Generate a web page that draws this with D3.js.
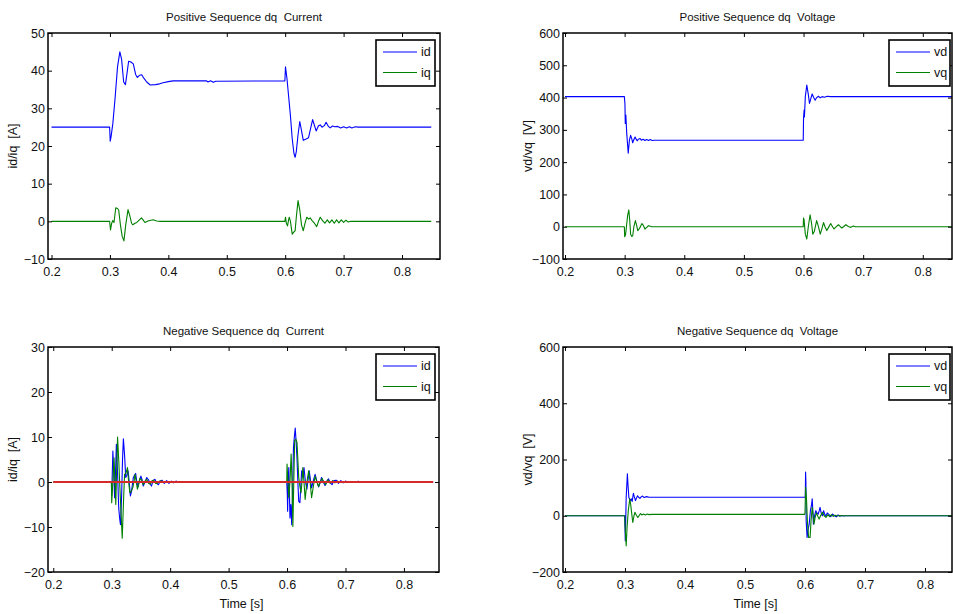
<!DOCTYPE html>
<html><head><meta charset="utf-8">
<script src="https://cdn.jsdelivr.net/npm/d3@7"></script>
<style>
html,body{margin:0;padding:0;background:#fff;}
svg text{font-family:"Liberation Sans",Arial,Helvetica,sans-serif;fill:#111;white-space:pre;}
</style></head>
<body>
<svg id="chart" width="953" height="614"></svg>
<script>
// ---------- DATA ----------
const xTicks = [0.2, 0.3, 0.4, 0.5, 0.6, 0.7, 0.8];
const titles = ["Positive Sequence dq  Current", "Positive Sequence dq  Voltage",
                "Negative Sequence dq  Current", "Negative Sequence dq  Voltage"];
const yLabels = ["id/iq  [A]", "vd/vq  [V]", "id/iq  [A]", "vd/vq  [V]"];
const xLabel = "Time [s]";
const yTicksPosI = [-10, 0, 10, 20, 30, 40, 50];
const yTicksPosV = [-100, 0, 100, 200, 300, 400, 500, 600];
const yTicksNegI = [-20, -10, 0, 10, 20, 30];
const yTicksNegV = [-200, 0, 200, 400, 600];

const posId = [[0.2,25],[0.2995,25],[0.3005,21.3],[0.302,22.5],[0.305,26],[0.309,33],[0.313,41],[0.317,45],[0.320,43],[0.3235,37],[0.3265,36.3],[0.329,39],[0.332,42.5],[0.336,42.3],[0.340,41.8],[0.344,39],[0.347,38.2],[0.351,38.8],[0.3545,38.9],[0.358,38],[0.363,37],[0.369,36.2],[0.378,36.3],[0.385,36.5],[0.391,36.8],[0.400,37.1],[0.408,37.3],[0.465,37.3],[0.468,37.0],[0.472,37.3],[0.477,36.9],[0.481,37.2],[0.5995,37.3],[0.6005,41],[0.603,38],[0.606,33],[0.609,28],[0.612,22],[0.615,18],[0.617,17],[0.619,18.5],[0.622,23],[0.625,26.5],[0.628,24],[0.631,21.5],[0.635,21.8],[0.640,22.2],[0.644,25],[0.647,27],[0.650,25.5],[0.653,24],[0.657,25.4],[0.660,25.6],[0.663,25],[0.667,25.4],[0.670,26.3],[0.674,25.2],[0.677,24.8],[0.681,25.3],[0.685,25.1],[0.690,25.2],[0.695,24.8],[0.700,25.1],[0.705,24.8],[0.710,25.1],[0.714,24.8],[0.720,25.1],[0.725,25],[0.85,25]];
const posIq = [[0.2,0],[0.2995,0],[0.301,-2.3],[0.303,-0.5],[0.305,0.2],[0.307,-0.3],[0.310,3.6],[0.313,3.4],[0.315,3.0],[0.318,-1],[0.321,-4],[0.324,-5.2],[0.327,-1],[0.331,3.1],[0.334,1.5],[0.337,-0.5],[0.339,-0.9],[0.343,-0.5],[0.346,-0.3],[0.350,0.3],[0.354,0.9],[0.357,0.3],[0.360,-0.3],[0.365,0.1],[0.370,0.3],[0.374,0.4],[0.380,0.1],[0.386,0],[0.5995,0],[0.6005,1.1],[0.602,-0.5],[0.604,-1.2],[0.606,0.5],[0.607,1.1],[0.609,0],[0.612,-3.4],[0.615,-2.8],[0.617,-2.5],[0.619,1],[0.622,5.5],[0.625,3],[0.628,-1],[0.631,-2.5],[0.634,-0.5],[0.637,1.1],[0.640,0.6],[0.643,0.9],[0.646,0.2],[0.650,-0.5],[0.654,-1.4],[0.657,0],[0.660,1.1],[0.664,0.2],[0.668,-0.5],[0.672,0.4],[0.676,-0.4],[0.680,0.4],[0.684,-0.5],[0.688,0.4],[0.692,-0.4],[0.696,0.4],[0.700,-0.3],[0.704,0.3],[0.708,-0.2],[0.712,0],[0.85,0]];

const posVd = [[0.2,403],[0.2995,403],[0.3005,380],[0.301,320],[0.302,346],[0.3035,289],[0.306,228],[0.308,268],[0.310,283],[0.312,272],[0.3135,260],[0.3155,270],[0.3175,278],[0.319,272],[0.321,266],[0.323,271],[0.326,273],[0.328,268],[0.331,271],[0.334,267],[0.337,270],[0.340,267],[0.343,270],[0.346,267],[0.350,268],[0.5995,268],[0.600,335],[0.601,361],[0.6015,340],[0.603,403],[0.6055,439],[0.608,410],[0.610,382],[0.612,395],[0.6145,411],[0.617,400],[0.6195,392],[0.622,400],[0.625,404],[0.628,399],[0.631,403],[0.635,401],[0.640,404],[0.645,403],[0.85,403]];
const posVq = [[0.2,0],[0.2995,0],[0.300,-31],[0.3015,-25],[0.303,0],[0.305,35],[0.307,52],[0.3085,20],[0.310,-23],[0.312,-30],[0.3135,-28],[0.3155,0],[0.318,19],[0.320,5],[0.322,-12],[0.325,-5],[0.329,10],[0.331,5],[0.334,-7],[0.337,-2],[0.340,3],[0.342,2],[0.345,0],[0.5995,0],[0.600,27],[0.601,20],[0.603,-23],[0.6055,-38],[0.608,0],[0.611,37],[0.6135,10],[0.6155,-23],[0.618,-15],[0.622,19],[0.625,0],[0.628,-23],[0.631,-5],[0.6335,13],[0.636,0],[0.639,-12],[0.642,-2],[0.6455,10],[0.648,2],[0.651,-7],[0.655,0],[0.6585,6],[0.661,2],[0.664,-4],[0.667,0],[0.671,6],[0.674,2],[0.678,-2],[0.681,0],[0.684,2],[0.687,0],[0.85,0]];

const negId = [[0.2,0],[0.2995,0],[0.300,-3],[0.302,6.9],[0.3035,2],[0.305,-3.5],[0.3065,2],[0.308,8.4],[0.310,2],[0.312,-5.7],[0.3135,-8],[0.315,-9.5],[0.317,-3],[0.3185,5],[0.320,9.6],[0.322,6],[0.324,1],[0.326,1.5],[0.328,2.5],[0.330,0],[0.332,-3.1],[0.334,-2],[0.337,1],[0.339,1.5],[0.341,1.9],[0.343,0],[0.345,-1.1],[0.347,0],[0.350,1.3],[0.352,0.5],[0.354,-0.9],[0.357,0],[0.360,1],[0.363,0.5],[0.366,-0.5],[0.368,-0.9],[0.371,0.3],[0.374,0.6],[0.377,-0.3],[0.380,-0.6],[0.383,0.2],[0.386,0.4],[0.390,-0.3],[0.394,0.3],[0.398,-0.3],[0.402,0.2],[0.406,-0.2],[0.410,0.2],[0.414,-0.1],[0.418,0.1],[0.422,0],[0.5995,0],[0.6005,-3],[0.601,-6.5],[0.602,0],[0.603,3.2],[0.604,-2],[0.605,-8],[0.6065,-5],[0.608,-9.5],[0.6095,-2],[0.611,7.7],[0.6125,10],[0.614,12],[0.6155,9],[0.617,5.4],[0.6185,0],[0.620,-4.3],[0.622,-4.6],[0.6235,-1],[0.625,2.5],[0.627,1],[0.629,3.2],[0.6315,0],[0.634,-1.6],[0.636,0.5],[0.638,2.5],[0.640,0.5],[0.642,-1.3],[0.645,0.3],[0.648,1.7],[0.651,0.2],[0.654,-1.1],[0.657,0],[0.659,1],[0.662,0],[0.665,-0.8],[0.668,0.2],[0.671,0.7],[0.674,-0.2],[0.677,-0.6],[0.680,0.3],[0.684,0.4],[0.688,-0.3],[0.692,0.3],[0.696,-0.2],[0.700,0.2],[0.705,-0.1],[0.710,0.1],[0.716,0],[0.722,0.15],[0.726,0],[0.85,0]];
const negIq = [[0.2,0],[0.2995,0],[0.300,-4.6],[0.302,0],[0.304,5.4],[0.3055,0],[0.307,-5],[0.3085,3],[0.310,10],[0.312,5],[0.314,-1.3],[0.316,-7],[0.318,-12.5],[0.320,-5],[0.322,1.7],[0.3245,2],[0.327,3.2],[0.329,0],[0.331,-2.4],[0.3335,-2],[0.336,-1.3],[0.338,0],[0.340,1.7],[0.342,0],[0.344,-1.6],[0.346,-0.5],[0.348,0.8],[0.351,0.5],[0.354,-0.6],[0.357,0.2],[0.360,0.6],[0.363,-0.3],[0.366,-0.5],[0.369,0.3],[0.372,0.4],[0.375,-0.3],[0.378,-0.3],[0.382,0.2],[0.386,0.2],[0.390,-0.1],[0.395,0.1],[0.400,0],[0.5995,0],[0.600,4],[0.6015,0],[0.603,-3.5],[0.605,0],[0.607,6.2],[0.6085,0],[0.610,-9.9],[0.6115,0],[0.613,9.2],[0.615,9.5],[0.617,8.8],[0.6185,5],[0.620,1],[0.622,-1],[0.624,-2.4],[0.6255,0],[0.627,3.2],[0.629,0],[0.631,-3.9],[0.634,0],[0.637,2.5],[0.6395,0],[0.642,-3.5],[0.645,-1],[0.648,1.3],[0.651,0],[0.654,-1],[0.657,0],[0.660,0.8],[0.663,0],[0.666,-0.6],[0.670,0.5],[0.674,-0.3],[0.678,0.3],[0.682,-0.2],[0.686,0.2],[0.690,-0.1],[0.695,0.1],[0.700,0],[0.85,0]];
const negRef = [[0.2,0],[0.85,0]];

const negVd = [[0.2,0],[0.2995,0],[0.300,-40],[0.3005,-89],[0.301,-40],[0.302,65],[0.304,149],[0.305,110],[0.3065,65],[0.308,58],[0.3095,54],[0.311,60],[0.312,51],[0.314,80],[0.3155,68],[0.3175,54],[0.319,62],[0.321,71],[0.323,65],[0.325,62],[0.327,67],[0.329,70],[0.332,65],[0.336,68],[0.340,66],[0.6005,66],[0.601,155],[0.6015,120],[0.602,-20],[0.6035,-77],[0.605,-50],[0.607,-30],[0.609,18],[0.611,40],[0.612,60],[0.613,20],[0.614,-30],[0.616,0],[0.618,18],[0.620,10],[0.622,6],[0.624,20],[0.625,30],[0.627,10],[0.629,0],[0.631,18],[0.633,5],[0.635,-2],[0.637,10],[0.640,4],[0.643,-3],[0.646,6],[0.649,0],[0.652,-4],[0.655,3],[0.658,-2],[0.661,1],[0.664,-1],[0.668,0],[0.85,0]];
const negVq = [[0.2,0],[0.2995,0],[0.300,-30],[0.302,-107],[0.3035,-40],[0.3055,18],[0.308,60],[0.3095,40],[0.311,12],[0.313,-24],[0.315,0],[0.3165,12],[0.319,2],[0.3215,-6],[0.324,2],[0.326,8],[0.328,3],[0.331,6],[0.334,3],[0.337,6],[0.340,4],[0.345,5],[0.5995,5],[0.600,10],[0.601,101],[0.6025,60],[0.604,-20],[0.606,-77],[0.6085,-77],[0.610,-20],[0.612,30],[0.6135,5],[0.615,-30],[0.617,-5],[0.619,10],[0.621,0],[0.6235,-12],[0.626,0],[0.629,12],[0.632,0],[0.635,-6],[0.638,4],[0.641,-3],[0.644,4],[0.647,-2],[0.650,2],[0.654,-1],[0.658,1],[0.662,0],[0.85,0]];

const legendPosI = ["id", "iq"];
const legendPosV = ["vd", "vq"];

// ---------- LAYOUT ----------
const BLUE = "#0000ff", GREEN = "#008000", RED = "#d42a2a";
const svg = d3.select("#chart");

const panels = [
  {box:[48,440,33,259], xd:[0.194,0.865], yd:[-10,50], yt:yTicksPosI, title:titles[0], yl:yLabels[0],
   series:[{d:posId,c:BLUE},{d:posIq,c:GREEN}], legend:legendPosI, lg:[376,40], xlab:false},
  {box:[563,952,33,259], xd:[0.1966,0.849], yd:[-100,600], yt:yTicksPosV, title:titles[1], yl:yLabels[1],
   series:[{d:posVd,c:BLUE},{d:posVq,c:GREEN}], legend:legendPosV, lg:[889,40], xlab:false},
  {box:[48,439,347,572], xd:[0.191,0.860], yd:[-20,30], yt:yTicksNegI, title:titles[2], yl:yLabels[2],
   series:[{d:negId,c:BLUE},{d:negIq,c:GREEN},{d:negRef,c:RED,w:2}], legend:legendPosI, lg:[376,354], xlab:true},
  {box:[563,952,347,572], xd:[0.1967,0.845], yd:[-200,600], yt:yTicksNegV, title:titles[3], yl:yLabels[3],
   series:[{d:negVd,c:BLUE},{d:negVq,c:GREEN}], legend:legendPosV, lg:[889,354], xlab:true}
];

panels.forEach((p, i) => {
  const [x0, x1, y0, y1] = p.box;
  const x = d3.scaleLinear().domain(p.xd).range([x0, x1]);
  const y = d3.scaleLinear().domain(p.yd).range([y1, y0]);
  const g = svg.append("g");

  const clipId = "clip" + i;
  g.append("clipPath").attr("id", clipId).append("rect")
    .attr("x", x0).attr("y", y0).attr("width", x1 - x0).attr("height", y1 - y0);

  // series
  const line = d3.line().x(d => x(d[0])).y(d => y(d[1]));
  const sg = g.append("g").attr("clip-path", `url(#${clipId})`);
  p.series.forEach(s => {
    sg.append("path").datum(s.d).attr("d", line)
      .attr("fill", "none").attr("stroke", s.c).attr("stroke-width", s.w || 1.1)
      .attr("stroke-linejoin", "round");
  });

  // axes
  const fmtY = d3.format("d");
  const axB = g.append("g").attr("transform", `translate(0,${y1})`)
    .call(d3.axisBottom(x).tickValues(xTicks).tickSizeInner(-4).tickSizeOuter(0).tickPadding(8).tickFormat(d3.format(".1f")));
  const axT = g.append("g").attr("transform", `translate(0,${y0})`)
    .call(d3.axisTop(x).tickValues(xTicks).tickSizeInner(-4).tickSizeOuter(0).tickFormat(""));
  const axL = g.append("g").attr("transform", `translate(${x0},0)`)
    .call(d3.axisLeft(y).tickValues(p.yt).tickSizeInner(-4).tickSizeOuter(0).tickPadding(3).tickFormat(fmtY));
  const axR = g.append("g").attr("transform", `translate(${x1},0)`)
    .call(d3.axisRight(y).tickValues(p.yt).tickSizeInner(-4).tickSizeOuter(0).tickFormat(""));
  [axB, axT, axL, axR].forEach(a => {
    a.select(".domain").remove();
    a.selectAll("line").attr("stroke", "#000").attr("stroke-width", 1);
    a.selectAll("text").attr("font-size", 12.5).attr("font-family", null).style("fill", "#111");
  });

  // frame
  g.append("rect").attr("x", x0).attr("y", y0).attr("width", x1 - x0).attr("height", y1 - y0)
    .attr("fill", "none").attr("stroke", "#000").attr("stroke-width", 1.5);

  // title
  g.append("text").attr("x", (x0 + x1) / 2).attr("y", y0 - 12).attr("text-anchor", "middle")
    .attr("font-size", 11.5).text(p.title);

  // y label
  g.append("text").attr("transform", `translate(${x0 - 31},${(y0 + y1) / 2}) rotate(-90)`)
    .attr("text-anchor", "middle").attr("font-size", 12.5).text(p.yl);

  // x label
  if (p.xlab) {
    g.append("text").attr("x", (x0 + x1) / 2 - 2).attr("y", y1 + 36).attr("text-anchor", "middle")
      .attr("font-size", 12.5).text(xLabel);
  }

  // legend
  const [lx, ly] = p.lg;
  const lgG = g.append("g");
  lgG.append("rect").attr("x", lx).attr("y", ly).attr("width", i % 2 ? 61 : 59).attr("height", 46)
    .attr("fill", "#fff").attr("stroke", "#000").attr("stroke-width", 1.6);
  p.legend.forEach((name, k) => {
    const yy = ly + 12 + k * 20.5;
    lgG.append("line").attr("x1", lx + 7).attr("x2", lx + 41).attr("y1", yy).attr("y2", yy)
      .attr("stroke", p.series[k].c).attr("stroke-width", 1.1);
    lgG.append("text").attr("x", lx + 45).attr("y", yy + 4).attr("font-size", 12.5).text(name);
  });
});
</script>
</body></html>
